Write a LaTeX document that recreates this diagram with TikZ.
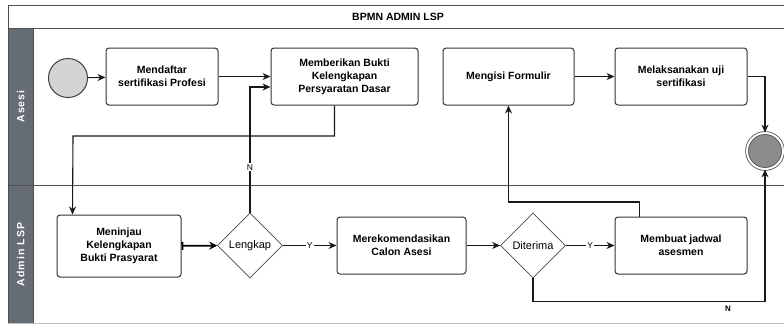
\documentclass[tikz,border=0pt]{standalone}
\usepackage{fontspec}
\setmainfont{Liberation Sans}
\usepackage{tikz}
\usetikzlibrary{shapes.geometric, positioning, arrows.meta}
\definecolor{lanegray}{HTML}{656C74}
\definecolor{framegray}{HTML}{4F4F4F}
\newcommand{\boxfont}{\bfseries\fontsize{10.5}{13}\selectfont}
\tikzset{task/.style = {rectangle, rounded corners=3pt, draw=black!80, line width=1pt, fill=white, align=center, font=\boxfont}}
\tikzset{gate/.style = {diamond, draw=black!70, line width=0.8pt, fill=white, inner sep=0pt, minimum size=65pt, font=\fontsize{11}{13}\selectfont}}
\tikzset{flow/.style={line width=1.1pt, draw=black!90, -{Stealth[length=8pt,width=7pt]}}}
\tikzset{guard/.style={fill=white, inner sep=1pt, font=\fontsize{8.5}{9}\selectfont}}
\tikzset{lanename/.style={rotate=90, text=white, font=\bfseries\fontsize{10.5}{12}\selectfont\addfontfeatures{LetterSpace=10}}}

\begin{document}
\begin{tikzpicture}[x=1pt, y=-1pt]
	\useasboundingbox (0,0) rectangle (784,325);
	\fill[lanegray] (8,28) rectangle (33,323);
	\draw[framegray, line width=1pt] (784,5) -- (8,5) -- (8,323);
	\draw[framegray, line width=1pt] (8,28) -- (784,28);
	\draw[framegray, line width=1pt] (8,185) -- (784,185);
	\draw[framegray, line width=1pt] (33,28) -- (33,323);
	\draw[black!25, line width=1pt] (8,323) -- (784,323);
	\node[font=\boxfont] (title) at (398,17) {BPMN ADMIN LSP};
	\node[lanename] (asesiLane) at (20.5,106.5) {Asesi};
	\node[lanename] (adminLane) at (20.5,254.5) {Admin LSP};

	\node[circle, draw=black!75, line width=1pt, fill=black!17, minimum size=39pt, inner sep=0pt] (start) at (68,78) {};
	\node[task, minimum width=112pt, minimum height=57pt] (Mendaftar) at (162,76.5) {Mendaftar\\sertifikasi Profesi};
	\node[task, minimum width=147pt, minimum height=57pt] (Memberikan) at (344.5,76.5) {Memberikan Bukti\\Kelengkapan\\Persyaratan Dasar};
	\node[task, minimum width=131pt, minimum height=57pt] (Mengisi) at (508.5,76.5) {Mengisi Formulir};
	\node[task, minimum width=132pt, minimum height=57pt] (Melaksanakan) at (681,76.5) {Melaksanakan uji\\sertifikasi};
	\node[circle, draw=black!70, line width=0.8pt, double=white, double distance=2pt, fill=black!45, minimum size=36pt, inner sep=0pt] (finish) at (765,151) {};

	\node[task, minimum width=124pt, minimum height=62pt] (Meninjau) at (119,246) {Meninjau\\Kelengkapan\\Bukti Prasyarat};
	\node[gate] (Lengkap) at (250,245.5) {Lengkap};
	\node[task, minimum width=129pt, minimum height=57pt] (Merekomendasikan) at (401.5,245.5) {Merekomendasikan\\Calon Asesi};
	\node[gate] (Diterima) at (533,245.5) {Diterima};
	\node[task, minimum width=132pt, minimum height=57pt] (Membuat) at (681,245.5) {Membuat jadwal\\asesmen};

	\coordinate (k1) at (73,136);
	\coordinate (k2) at (508.5,202);

	\draw[flow] (start) -- (Mendaftar);
	\draw[flow] (Mendaftar) -- (Memberikan);
	\draw[flow] ([xshift=64pt]Memberikan.south west) |- (k1) -- ([xshift=16pt]Meninjau.north west);
	\draw[line width=1.8pt, {Bar[width=8pt]}-{Stealth[length=8pt,width=8pt]}] (Meninjau) -- (Lengkap);
	\draw[flow] (Lengkap.north) |- ([yshift=-10.5pt]Memberikan.west) node[guard, pos=0.18] {N};
	\draw[flow] (Lengkap) -- (Merekomendasikan) node[guard, midway] {Y};
	\draw[flow] (Merekomendasikan) -- (Diterima);
	\draw[flow] (Diterima) -- (Membuat) node[guard, midway] {Y};
	\draw[flow] ([xshift=25pt]Membuat.north west) |- (k2) -- (Mengisi.south);
	\draw[flow] (Mengisi) -- (Melaksanakan);
	\draw[flow] (Melaksanakan.east) -| (finish.north);
	\draw[flow] (Diterima.south) -- ++(0,23) -| (finish.south) node[guard, pos=0.42, below=3pt, fill=none, font=\bfseries\fontsize{8}{9}\selectfont] {N};
\end{tikzpicture}
\end{document}
